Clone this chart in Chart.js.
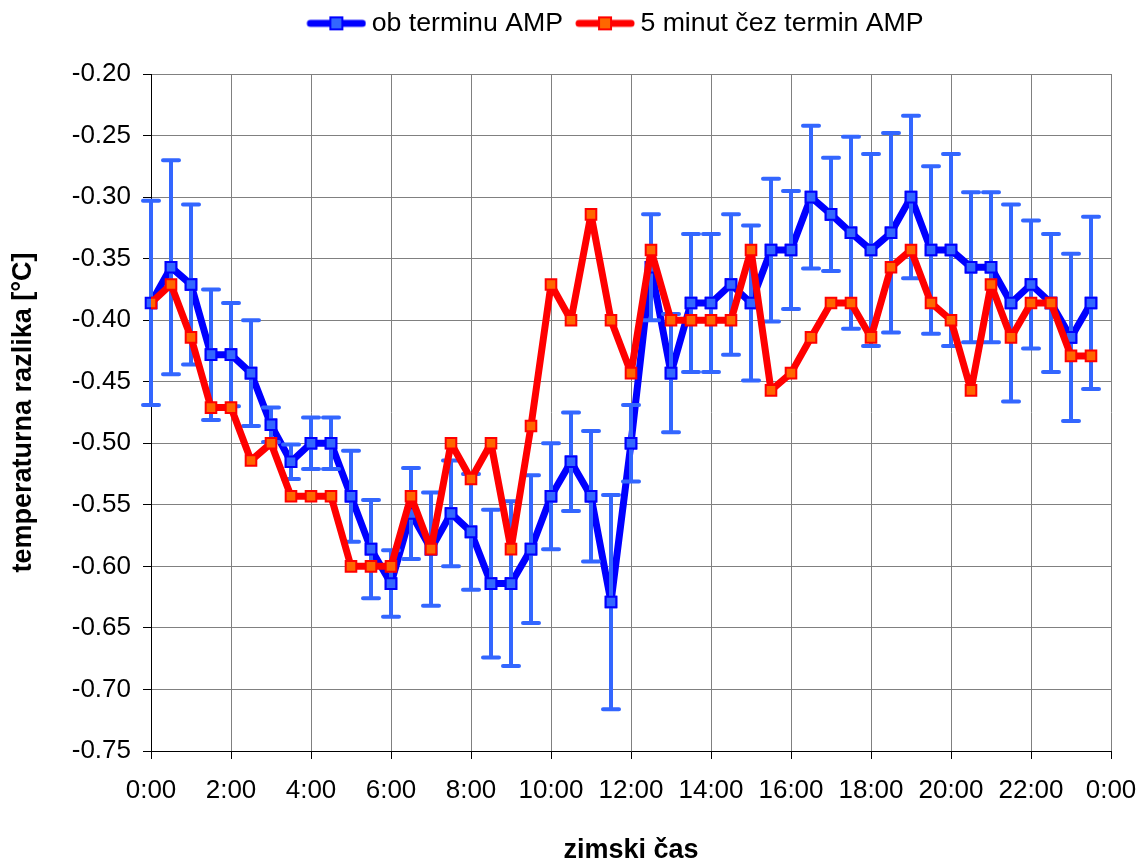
<!DOCTYPE html>
<html>
<head>
<meta charset="utf-8">
<script src="https://cdn.jsdelivr.net/npm/chart.js@4/dist/chart.umd.min.js"></script>
<style>
  body { margin: 0; background: #fff; }
</style>
</head>
<body>
<canvas id="chart" width="1138" height="861"></canvas>
<script>
const times = ['0:00','0:30','1:00','1:30','2:00','2:30','3:00','3:30','4:00','4:30','5:00','5:30',
  '6:00','6:30','7:00','7:30','8:00','8:30','9:00','9:30','10:00','10:30','11:00','11:30',
  '12:00','12:30','13:00','13:30','14:00','14:30','15:00','15:30','16:00','16:30','17:00','17:30',
  '18:00','18:30','19:00','19:30','20:00','20:30','21:00','21:30','22:00','22:30','23:00','23:30'];

const obTerminu = [-0.386, -0.357, -0.371, -0.428, -0.428, -0.443, -0.485, -0.515, -0.500, -0.500, -0.543, -0.586,
  -0.614, -0.557, -0.586, -0.557, -0.572, -0.614, -0.614, -0.586, -0.543, -0.515, -0.543, -0.629,
  -0.500, -0.357, -0.443, -0.386, -0.386, -0.371, -0.386, -0.343, -0.343, -0.300, -0.314, -0.329,
  -0.343, -0.329, -0.300, -0.343, -0.343, -0.357, -0.357, -0.386, -0.371, -0.386, -0.414, -0.386];

// half width of the error bars on the blue series
const obTerminuErr = [0.083, 0.087, 0.065, 0.053, 0.042, 0.043, 0.014, 0.014, 0.021, 0.021, 0.037, 0.040,
  0.027, 0.037, 0.046, 0.043, 0.047, 0.060, 0.067, 0.060, 0.043, 0.040, 0.053, 0.087,
  0.031, 0.043, 0.048, 0.056, 0.056, 0.057, 0.063, 0.058, 0.048, 0.058, 0.046, 0.078,
  0.078, 0.081, 0.066, 0.068, 0.078, 0.061, 0.061, 0.080, 0.052, 0.056, 0.068, 0.070];

const petMinut = [-0.386, -0.371, -0.414, -0.471, -0.471, -0.514, -0.500, -0.543, -0.543, -0.543, -0.600, -0.600,
  -0.600, -0.543, -0.586, -0.500, -0.529, -0.500, -0.586, -0.486, -0.371, -0.400, -0.314, -0.400,
  -0.443, -0.343, -0.400, -0.400, -0.400, -0.400, -0.343, -0.457, -0.443, -0.414, -0.386, -0.386,
  -0.414, -0.357, -0.343, -0.386, -0.400, -0.457, -0.371, -0.414, -0.386, -0.386, -0.429, -0.429];

const yTicks = { min: -0.75, max: -0.20, step: 0.05 };
const xTicks = { min: 0, max: 24, step: 2 };

const font = 'Liberation Sans';

function toHours(t) {
    const [h, m] = t.split(':').map(Number);
    return h + m / 60;
}

function points(values) {
    return values.map((v, i) => ({ x: toHours(times[i]), y: v }));
}

// legend symbol: thick line with a square marker, drawn on the right 60px of a 70px canvas
function legendSymbol(line, fill) {
    const c = document.createElement('canvas');
    c.width = 70; c.height = 18;
    const g = c.getContext('2d');
    g.strokeStyle = line;
    g.lineWidth = 7;
    g.lineCap = 'round';
    g.beginPath(); g.moveTo(14, 9); g.lineTo(66, 9); g.stroke();
    g.fillStyle = fill;
    g.fillRect(34, 3, 12, 12);
    g.lineWidth = 2;
    g.strokeRect(34, 3, 12, 12);
    return c;
}

const symbols = [legendSymbol('#0000ff', '#3366ff'), legendSymbol('#ff0000', '#ff6600')];

const errorBars = {
    id: 'errorBars',
    afterDatasetDraw(chart, args) {
        if (args.index !== 0) return;
        const ctx = chart.ctx;
        const y = chart.scales.y;
        ctx.save();
        ctx.strokeStyle = '#3366ff';
        ctx.lineWidth = 4;
        ctx.lineCap = 'round';
        args.meta.data.forEach((pt, i) => {
            const top = y.getPixelForValue(obTerminu[i] + obTerminuErr[i]);
            const bot = y.getPixelForValue(obTerminu[i] - obTerminuErr[i]);
            ctx.beginPath();
            ctx.moveTo(pt.x, top); ctx.lineTo(pt.x, bot);
            ctx.moveTo(pt.x - 8, top); ctx.lineTo(pt.x + 8, top);
            ctx.moveTo(pt.x - 8, bot); ctx.lineTo(pt.x + 8, bot);
            ctx.stroke();
        });
        ctx.restore();
        // markers back on top of the bars
        args.meta.data.forEach(pt => pt.draw(ctx, chart.chartArea));
    }
};

const legendSpace = {
    id: 'legendSpace',
    beforeInit(chart) {
        const fit = chart.legend.fit;
        chart.legend.fit = function () {
            fit.call(this);
            this.height = 74;
        };
    },
    afterLayout(chart) {
        // legend sits a bit left of the plot centre
        chart.legend.left -= 34;
    }
};

new Chart(document.getElementById('chart'), {
    type: 'line',
    data: {
        datasets: [{
            label: 'ob terminu AMP',
            data: points(obTerminu),
            borderColor: '#0000ff',
            borderWidth: 7,
            borderJoinStyle: 'round',
            backgroundColor: '#3366ff',
            pointStyle: 'rect',
            pointRadius: 7.5,
            pointBorderWidth: 2,
            pointBorderColor: '#0000ff',
            pointBackgroundColor: '#3366ff',
            order: 1
        }, {
            label: '5 minut čez termin AMP',
            data: points(petMinut),
            borderColor: '#ff0000',
            borderWidth: 7,
            borderJoinStyle: 'round',
            backgroundColor: '#ff6600',
            pointStyle: 'rect',
            pointRadius: 7.5,
            pointBorderWidth: 2,
            pointBorderColor: '#ff0000',
            pointBackgroundColor: '#ff6600',
            order: 0
        }]
    },
    options: {
        responsive: false,
        animation: false,
        layout: { padding: { top: 0, right: 27, bottom: 0, left: 0 } },
        plugins: {
            tooltip: { enabled: false },
            legend: {
                position: 'top',
                fullSize: false,
                labels: {
                    usePointStyle: true,
                    pointStyleWidth: 54,
                    padding: 10,
                    color: '#000',
                    font: { family: font, size: 26.7 },
                    sort: (a, b) => a.datasetIndex - b.datasetIndex,
                    generateLabels(chart) {
                        const items = Chart.defaults.plugins.legend.labels.generateLabels(chart);
                        items.forEach(it => { it.pointStyle = symbols[it.datasetIndex]; });
                        return items;
                    }
                }
            }
        },
        scales: {
            x: {
                type: 'linear',
                min: xTicks.min,
                max: xTicks.max,
                afterFit(s) {
                    s.height = 110;
                    s.paddingLeft = 0;
                    s.paddingRight = 0;
                },
                ticks: {
                    stepSize: xTicks.step,
                    padding: 16,
                    color: '#000',
                    font: { family: font, size: 26 },
                    maxRotation: 0,
                    callback: v => (v % 24) + ':00'
                },
                grid: { color: '#808080', tickColor: '#000', tickLength: 8 },
                border: { color: '#000', width: 1 },
                title: {
                    display: true,
                    text: 'zimski čas',
                    color: '#000',
                    font: { family: font, size: 27, weight: 'bold', lineHeight: 1 },
                    padding: { top: 0, bottom: -3 }
                }
            },
            y: {
                min: yTicks.min,
                max: yTicks.max,
                afterFit(s) { s.width = 151; },
                ticks: {
                    stepSize: yTicks.step,
                    padding: 12,
                    color: '#000',
                    font: { family: font, size: 26 },
                    callback: v => v.toFixed(2)
                },
                grid: { color: '#808080', tickColor: '#000', tickLength: 8 },
                border: { color: '#000', width: 1 },
                title: {
                    display: true,
                    text: 'temperaturna razlika [°C]',
                    color: '#000',
                    font: { family: font, size: 27, weight: 'bold', lineHeight: 1 },
                    padding: { top: 10, bottom: 0 }
                }
            }
        }
    },
    plugins: [errorBars, legendSpace]
});
</script>
</body>
</html>
